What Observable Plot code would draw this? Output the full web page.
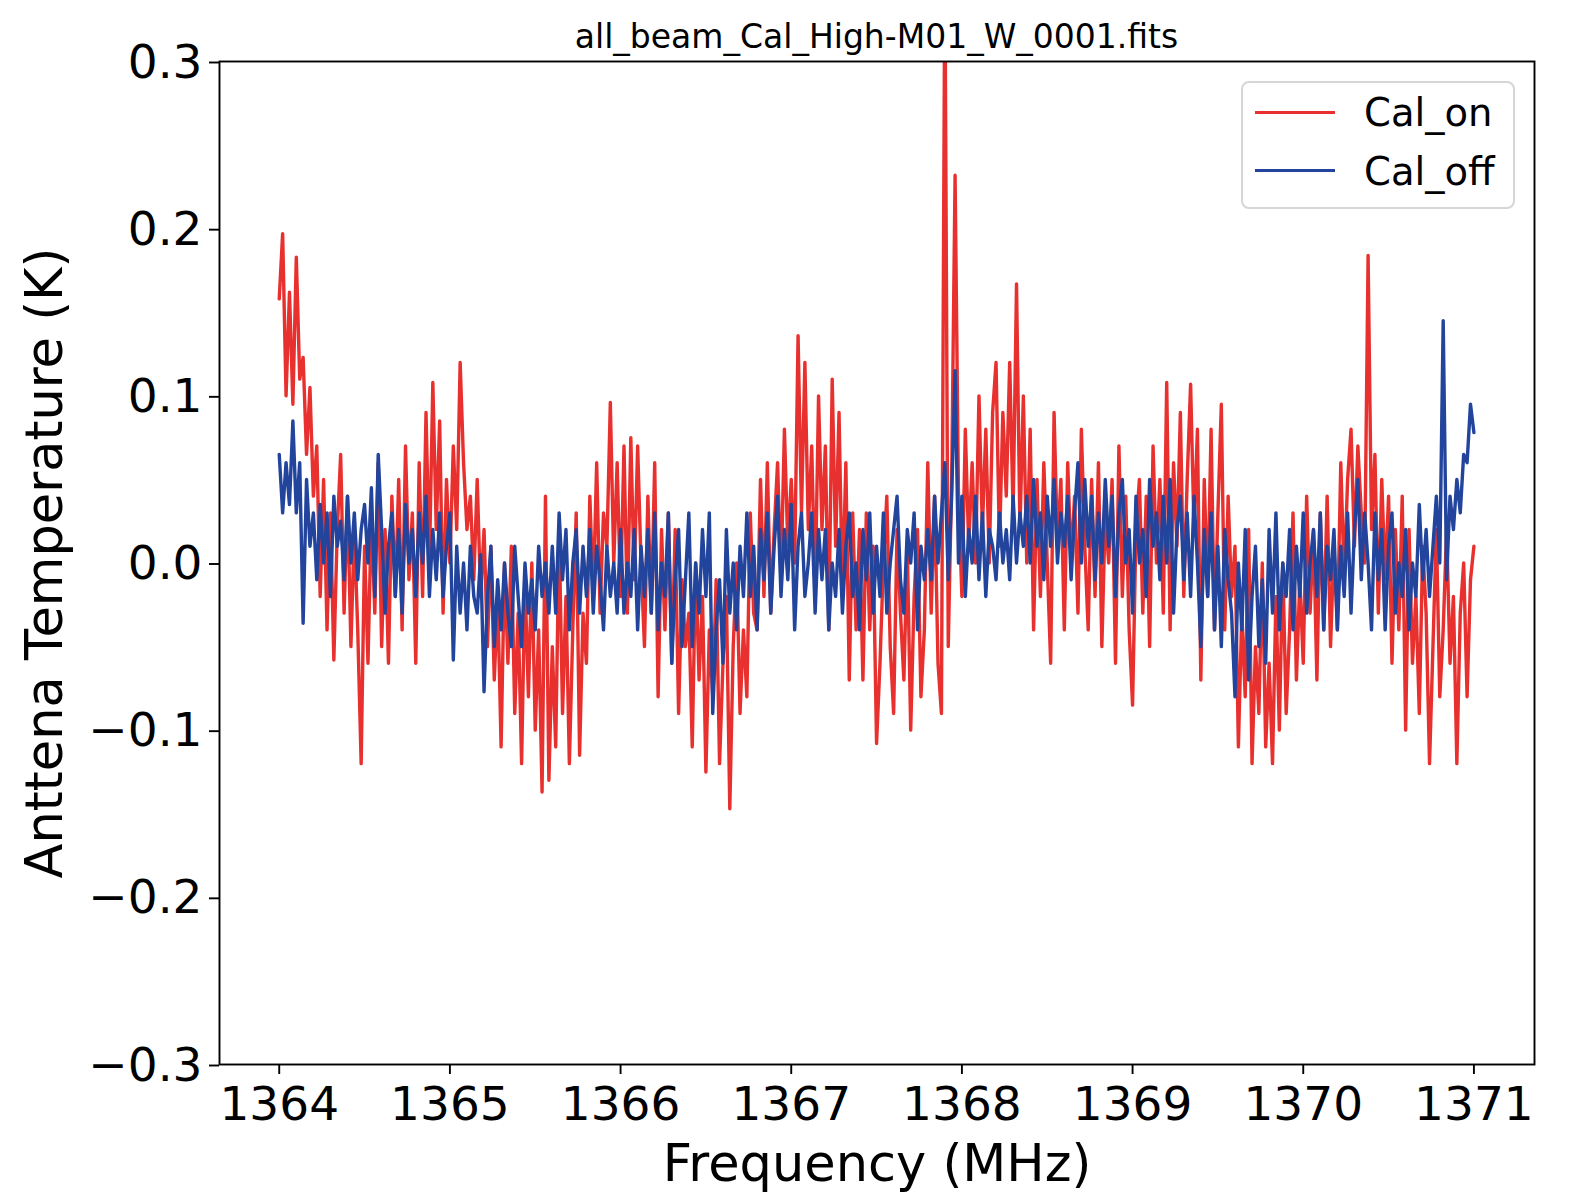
<!DOCTYPE html>
<html>
<head>
<meta charset="utf-8">
<script src="https://cdn.jsdelivr.net/npm/d3@7"></script>
<script src="https://cdn.jsdelivr.net/npm/@observablehq/plot@0.6"></script>
<style>
  html, body { margin: 0; padding: 0; background: white; }
  #wrap { position: relative; width: 1584px; height: 1200px; font-family: "DejaVu Sans", sans-serif; }
  #title { position: absolute; left: 219px; width: 1315px; top: 19.6px; line-height: 1; text-align: center; font-size: 33px; color: #000; white-space: nowrap; }
  #legend { position: absolute; left: 1241px; top: 81px; width: 274px; height: 128px; border: 2.4px solid #d6d6d6; border-radius: 8px; background: rgba(255,255,255,0.85); box-sizing: border-box; }
  .lg-line { position: absolute; left: 12px; width: 80px; height: 3.3px; }
  .lg-text { position: absolute; left: 121px; font-size: 38.5px; line-height: 1; color: #000; white-space: nowrap; }
  g[aria-label="x-axis label"], g[aria-label="y-axis label"] { font-size: 51px; }
</style>
</head>
<body>
<div id="wrap">
  <div id="chart"></div>
  <div id="title"></div>
  <div id="legend"></div>
</div>
<script>
// ---- data ----
const chartTitle = "all_beam_Cal_High-M01_W_0001.fits";
const seriesNames = ["Cal_on", "Cal_off"];
const seriesColors = ["#e8302e", "#22449c"];
const xLabel = "Frequency (MHz)";
const yLabel = "Anttena Temperature (K)";
const xTicks = [1364, 1365, 1366, 1367, 1368, 1369, 1370, 1371];
const yTicks = [-0.3, -0.2, -0.1, 0.0, 0.1, 0.2, 0.3];
// spectrometer channel grid (MHz)
const channelStart = 1364.0;
const channelWidth = 0.02;

// Cal_on antenna temperature (K), one value per channel
const calOn = [
  0.158, 0.197, 0.100, 0.162, 0.095, 0.183, 0.110, 0.123, 0.065, 0.105,
  0.040, 0.070, -0.020, 0.050, -0.040, 0.030, -0.058, 0.020, 0.065, -0.030,
  0.040, -0.050, 0.020, -0.040, -0.120, 0.010, -0.060, 0.030, -0.030, 0.060,
  -0.050, 0.020, -0.060, 0.040, -0.020, 0.050, -0.040, 0.070, -0.010, 0.030,
  -0.060, 0.060, -0.020, 0.090, 0.000, 0.108, 0.020, 0.085, -0.030, 0.050,
  0.000, 0.070, 0.020, 0.120, 0.060, 0.020, 0.040, -0.010, 0.050, -0.020,
  0.020, -0.050, 0.010, -0.070, -0.020, -0.110, 0.000, -0.060, 0.010, -0.090,
  -0.030, -0.120, -0.010, -0.080, 0.000, -0.100, -0.040, -0.137, 0.040, -0.130,
  -0.050, -0.110, 0.020, -0.090, -0.020, -0.120, -0.040, 0.030, -0.115, -0.030,
  -0.060, 0.040, -0.020, 0.060, -0.030, 0.030, 0.010, 0.096, 0.000, 0.060,
  -0.020, 0.070, -0.030, 0.075, -0.010, 0.070, 0.000, -0.050, 0.040, -0.030,
  0.060, -0.080, 0.020, -0.040, 0.030, -0.060, 0.020, -0.090, -0.010, -0.050,
  -0.030, -0.110, 0.000, -0.070, -0.020, -0.125, -0.040, -0.080, -0.010, -0.120,
  -0.060, -0.020, -0.147, -0.050, 0.000, -0.090, -0.040, -0.080, 0.030, -0.030,
  -0.040, 0.050, -0.020, 0.060, -0.030, 0.020, 0.060, -0.010, 0.080, 0.010,
  0.050, 0.000, 0.136, 0.030, 0.120, 0.020, 0.070, -0.020, 0.100, 0.020,
  0.070, -0.040, 0.110, 0.010, 0.090, -0.020, 0.060, -0.070, 0.030, -0.040,
  0.020, -0.070, 0.030, -0.040, 0.010, -0.108, -0.060, 0.000, 0.040, -0.050,
  -0.090, 0.020, -0.030, -0.070, 0.010, -0.100, -0.020, 0.020, -0.080, -0.040,
  0.060, -0.030, 0.040, -0.060, -0.090, 0.360, -0.050, 0.050, 0.232, 0.040,
  -0.020, 0.080, 0.010, 0.060, 0.000, 0.100, 0.020, 0.080, 0.000, 0.090,
  0.120, 0.010, 0.090, 0.040, 0.120, 0.030, 0.167, 0.020, 0.100, 0.000,
  0.080, -0.040, 0.050, -0.020, 0.060, 0.000, -0.060, 0.090, 0.010, 0.050,
  -0.040, 0.060, 0.000, 0.040, -0.030, 0.080, 0.010, -0.040, 0.050, -0.020,
  0.060, -0.050, 0.030, 0.000, 0.050, -0.060, 0.070, -0.020, 0.040, -0.040,
  -0.085, 0.020, 0.050, -0.030, 0.040, -0.050, 0.070, 0.000, 0.050, -0.030,
  0.108, -0.040, 0.060, 0.010, 0.090, -0.020, 0.050, 0.107, 0.020, 0.080,
  -0.070, 0.050, -0.020, 0.080, -0.040, 0.030, 0.095, -0.040, 0.040, -0.020,
  0.010, -0.110, -0.030, -0.080, 0.020, -0.120, -0.050, -0.090, 0.000, -0.110,
  -0.060, -0.120, -0.020, -0.100, 0.000, -0.090, -0.040, 0.030, -0.070, -0.010,
  -0.060, 0.040, -0.030, 0.020, -0.070, 0.030, -0.040, 0.040, -0.050, 0.010,
  -0.040, 0.060, -0.010, 0.050, 0.080, 0.010, 0.070, 0.030, 0.000, 0.184,
  0.020, 0.065, -0.030, 0.050, -0.010, 0.040, -0.060, 0.020, -0.040, 0.040,
  -0.100, 0.020, -0.060, -0.020, -0.090, 0.010, -0.030, -0.120, -0.050, 0.020,
  -0.080, -0.040, 0.020, -0.060, -0.020, -0.120, -0.030, 0.000, -0.080, -0.010,
  0.010
];

// Cal_off antenna temperature (K), one value per channel
const calOff = [
  0.065, 0.030, 0.060, 0.035, 0.085, 0.030, 0.060, -0.036, 0.050, 0.010,
  0.030, -0.010, 0.035, 0.000, 0.030, -0.020, 0.040, 0.010, 0.025, -0.010,
  0.040, 0.000, 0.030, -0.010, 0.020, 0.035, 0.000, 0.045, -0.020, 0.065,
  0.020, -0.030, 0.010, 0.030, -0.020, 0.020, -0.030, 0.035, 0.000, 0.020,
  -0.020, 0.030, 0.000, 0.040, -0.020, 0.020, -0.010, 0.030, -0.020, 0.010,
  0.030, -0.058, 0.010, -0.030, 0.000, -0.040, 0.010, -0.020, -0.030, 0.005,
  -0.077, -0.020, 0.010, -0.050, -0.010, -0.040, 0.000, -0.030, -0.050, 0.010,
  -0.020, -0.050, 0.000, -0.030, -0.010, -0.040, 0.010, -0.020, 0.000, -0.030,
  0.010, -0.030, 0.030, -0.010, 0.020, -0.040, 0.000, 0.020, -0.030, 0.010,
  -0.020, 0.020, -0.030, 0.010, -0.010, -0.040, 0.010, -0.020, 0.000, -0.030,
  0.020, -0.030, 0.000, -0.020, 0.020, -0.040, 0.010, -0.020, 0.020, -0.030,
  0.030, -0.040, 0.000, -0.020, 0.030, -0.060, -0.010, 0.020, -0.050, -0.010,
  0.030, -0.050, 0.000, -0.030, 0.020, -0.020, 0.030, -0.090, -0.040, -0.010,
  -0.060, 0.020, -0.030, 0.000, -0.040, 0.010, -0.020, 0.030, -0.020, 0.010,
  -0.040, 0.020, -0.010, 0.030, -0.030, 0.010, 0.040, -0.020, 0.020, -0.010,
  0.035, -0.040, 0.010, 0.030, -0.020, 0.000, 0.030, -0.030, 0.020, -0.010,
  0.020, -0.040, 0.000, -0.020, 0.020, -0.030, 0.010, 0.030, -0.020, 0.000,
  -0.040, 0.020, -0.010, 0.030, -0.030, 0.010, -0.020, 0.030, -0.030, 0.000,
  0.020, 0.040, -0.010, -0.030, 0.020, 0.000, 0.030, -0.040, 0.010, -0.010,
  0.020, -0.010, 0.040, 0.000, 0.030, 0.060, -0.010, 0.040, 0.115, 0.000,
  0.040, -0.020, 0.020, 0.000, 0.040, -0.010, 0.030, -0.020, 0.020, 0.010,
  -0.010, 0.030, 0.000, 0.020, -0.010, 0.040, 0.000, 0.030, 0.010, 0.040,
  0.000, 0.050, 0.010, 0.030, -0.010, 0.040, 0.010, 0.050, 0.000, 0.030,
  0.010, 0.040, -0.010, 0.030, 0.060, 0.000, 0.050, 0.010, 0.040, -0.010,
  0.030, 0.000, 0.050, 0.010, 0.040, -0.020, 0.030, 0.050, 0.000, 0.020,
  -0.030, 0.040, 0.000, 0.020, -0.020, 0.050, 0.010, 0.030, -0.010, 0.040,
  0.000, 0.050, -0.030, 0.020, 0.040, -0.010, 0.030, -0.020, 0.040, 0.000,
  -0.050, 0.020, -0.020, 0.030, -0.040, 0.010, -0.050, 0.020, -0.010, -0.030,
  -0.080, 0.000, -0.040, 0.020, -0.070, -0.020, 0.010, -0.050, -0.010, -0.060,
  0.020, -0.030, 0.030, -0.040, 0.000, -0.020, 0.020, -0.040, 0.010, -0.020,
  0.030, -0.030, 0.000, 0.020, -0.020, 0.030, -0.040, 0.010, -0.010, 0.020,
  -0.040, 0.010, -0.020, 0.030, -0.030, 0.020, 0.050, -0.010, 0.030, 0.000,
  -0.040, 0.030, -0.010, 0.020, -0.040, 0.010, 0.030, -0.030, 0.000, -0.020,
  0.020, -0.040, 0.000, -0.020, 0.035, -0.010, 0.020, -0.020, 0.010, 0.040,
  0.000, 0.145, -0.010, 0.040, 0.020, 0.050, 0.030, 0.065, 0.060, 0.095,
  0.078
];

// ---- build table ----
const rows = [];
[calOn, calOff].forEach((vals, s) => {
  vals.forEach((v, i) => rows.push({series: seriesNames[s], freq: channelStart + i * channelWidth, temp: v}));
});

const fmtY = d => (d < 0 ? "\u2212" : "") + Math.abs(d).toFixed(1);

const chart = Plot.plot({
  width: 1584,
  height: 1200,
  marginLeft: 219,
  marginRight: 50,
  marginTop: 61,
  marginBottom: 136,
  style: {fontFamily: "DejaVu Sans, sans-serif", background: "white", color: "black"},
  x: {domain: [1363.65, 1371.355], labelArrow: "none"},
  y: {domain: [-0.3, 0.3], labelArrow: "none"},
  color: {domain: seriesNames, range: seriesColors},
  marks: [
    Plot.line(rows, {x: "freq", y: "temp", z: "series", stroke: "series", strokeWidth: 3.4, clip: true}),
    Plot.frame({stroke: "black", strokeWidth: 1.9}),
    Plot.axisX(xTicks, {tickSize: 10, tickPadding: 12, strokeWidth: 1.9, fontSize: 47, tickFormat: d => String(d),
      label: xLabel, labelAnchor: "center", labelOffset: 116, labelArrow: "none"}),
    Plot.axisY(yTicks, {tickSize: 10, tickPadding: 7, strokeWidth: 1.9, fontSize: 47, tickFormat: fmtY, dy: 1,
      label: yLabel, labelAnchor: "center", labelOffset: 194, labelArrow: "none"})
  ]
});
// strip any arrow glyphs from the axis labels (older Plot builds)
chart.querySelectorAll('g[aria-label$="-axis label"] text').forEach(t => {
  t.textContent = t.textContent.replace(/\s*[\u2190-\u2193]\s*/g, "").trim();
});
document.getElementById("chart").appendChild(chart);

document.getElementById("title").textContent = chartTitle;
const legend = document.getElementById("legend");
const lineTops = [27.6, 86];
const textTops = [11.1, 69.5];
seriesNames.forEach((name, i) => {
  const ln = document.createElement("div");
  ln.className = "lg-line";
  ln.style.top = lineTops[i] + "px";
  ln.style.background = seriesColors[i];
  const tx = document.createElement("div");
  tx.className = "lg-text";
  tx.style.top = textTops[i] + "px";
  tx.textContent = name;
  legend.appendChild(ln);
  legend.appendChild(tx);
});
</script>
</body>
</html>
